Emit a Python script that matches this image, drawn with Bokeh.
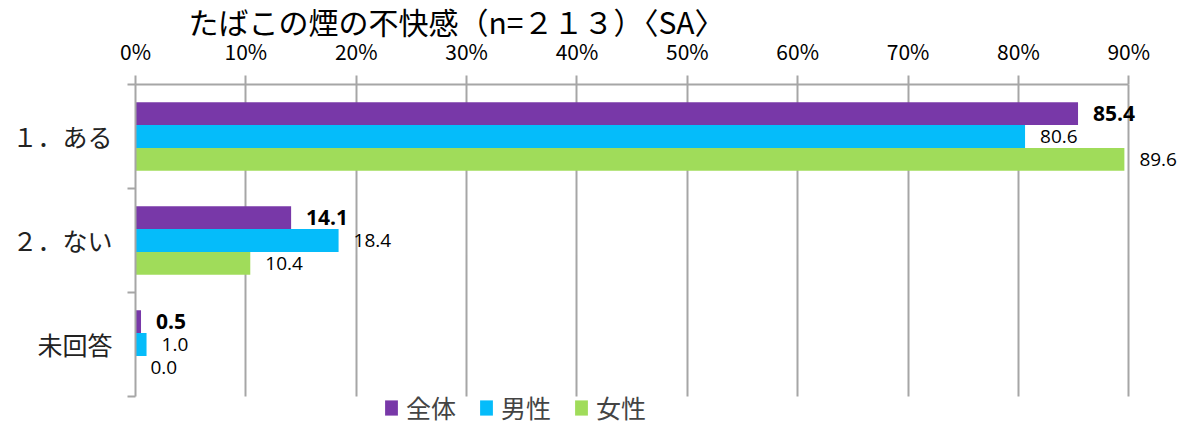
from bokeh.plotting import figure
from bokeh.models import (Range1d, FixedTicker, Legend, LegendItem, ColumnDataSource,
                          LabelSet, CustomJSTickFormatter)
from bokeh.transform import dodge
from bokeh.core.properties import value
from bokeh.embed import file_html
from bokeh.resources import INLINE

title_text = "たばこの煙の不快感（n=２１３）〈SA〉"
categories = ["１．ある", "２．ない", "未回答"]
series_names = ["全体", "男性", "女性"]
total = [85.4, 14.1, 0.5]
male = [80.6, 18.4, 1.0]
female = [89.6, 10.4, 0.0]
x_ticks = [0, 10, 20, 30, 40, 50, 60, 70, 80, 90]

colors = ["#7838A8", "#05BCFA", "#A0DC5A"]
offsets = [0.22, 0.0, -0.22]
JP = "Noto Sans CJK JP"
GRAY = "#a6a6a6"

n = len(categories)
centers = [n - 0.5 - i for i in range(n)]

p = figure(width=1189, height=430, x_range=Range1d(0, 95.5), y_range=Range1d(-0.327, n),
           x_axis_location="above", output_backend="svg", toolbar_location=None,
           min_border_left=135, min_border_right=0, min_border_top=84, min_border_bottom=0)
p.outline_line_color = None
p.background_fill_color = "white"
p.border_fill_color = "white"

p.title.text = title_text
p.title.text_font = JP
p.title.text_font_size = "30px"
p.title.text_font_style = "normal"
p.title.text_color = "#000000"
p.title.align = "left"
p.title.offset = 53
p.title.standoff = -21

# x axis on top
xa = p.xaxis[0]
xa.ticker = FixedTicker(ticks=x_ticks)
xa.bounds = (x_ticks[0], x_ticks[-1])
xa.formatter = CustomJSTickFormatter(code="return tick + '%';")
xa.major_tick_out = 9
xa.major_tick_in = 0
xa.minor_tick_out = 0
xa.minor_tick_in = 0
xa.axis_line_color = GRAY
xa.axis_line_width = 2
xa.major_tick_line_color = GRAY
xa.major_tick_line_width = 2
xa.major_label_text_font = JP
xa.major_label_text_font_size = "21px"
xa.major_label_text_color = "#000000"
xa.major_label_standoff = 10

# y axis
ya = p.yaxis[0]
ya.ticker = FixedTicker(ticks=centers, minor_ticks=list(range(n + 1)))
ya.bounds = (0, n)
ya.formatter = CustomJSTickFormatter(args=dict(labels=categories, n=n),
                                     code="return labels[Math.round(n - 0.5 - tick)];")
ya.major_tick_out = 0
ya.major_tick_in = 0
ya.minor_tick_out = 8
ya.minor_tick_in = 0
ya.minor_tick_line_color = GRAY
ya.minor_tick_line_width = 2
ya.axis_line_color = GRAY
ya.axis_line_width = 2
ya.major_label_text_font = JP
ya.major_label_text_font_size = "25px"
ya.major_label_text_color = "#222222"
ya.major_label_standoff = 15

xg = p.xgrid[0]
xg.grid_line_color = GRAY
xg.grid_line_width = 2
if "cross_bounds" in xg.properties():
    xg.cross_bounds = (0, n)
p.ygrid.grid_line_color = None

items = []
for name, vals, col, off, bold in zip(series_names, [total, male, female], colors, offsets,
                                      [True, False, False]):
    src = ColumnDataSource(dict(y=centers, v=vals, t=[f"{v:.1f}" for v in vals]))
    r = p.hbar(y=dodge("y", off, range=p.y_range), left=0, right="v", height=0.22,
               source=src, fill_color=col, line_color=None)
    items.append(LegendItem(label=name, renderers=[r]))
    lab = LabelSet(x="v", y=dodge("y", off, range=p.y_range), text="t", source=src,
                   x_offset=15, text_baseline="middle", text_align="left",
                   text_font=value("Open Sans"),
                   text_font_size="21px" if bold else "19px",
                   text_font_style="bold" if bold else "normal",
                   text_color="#000000")
    p.add_layout(lab)

legend = Legend(items=items, orientation="horizontal", location=(248, 5),
                glyph_width=16, glyph_height=19, label_text_font=JP,
                label_text_font_size="25px", border_line_color=None,
                background_fill_alpha=0, padding=0, margin=0, spacing=22,
                label_standoff=7)
p.add_layout(legend)

open("out.html", "w").write(file_html(p, INLINE))
